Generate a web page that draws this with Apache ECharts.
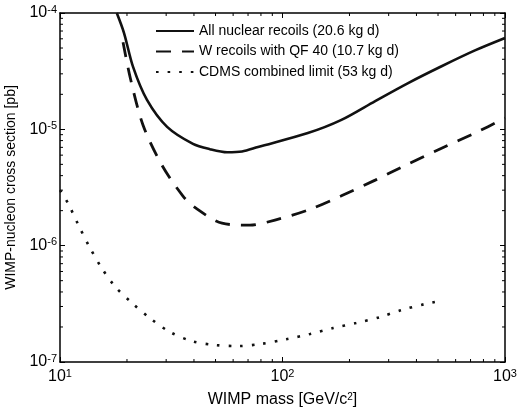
<!DOCTYPE html>
<html>
<head>
<meta charset="utf-8">
<script src="https://cdn.jsdelivr.net/npm/echarts@6/dist/echarts.min.js"></script>
<style>html,body{margin:0;padding:0;background:#fff;}#c{width:517px;height:412px;}</style>
</head>
<body>
<div id="c"></div>
<script>
// WIMP mass [GeV/c^2]
var massSolid = [18.0, 19.4, 21.3, 24.6, 30.3, 39.6, 47.2, 56.4, 65.8, 77.6, 130, 183, 261, 367, 516, 733, 1000];
var csSolid   = [1.0e-4, 6.73e-5, 3.44e-5, 1.79e-5, 1.05e-5, 7.5e-6, 6.75e-6, 6.35e-6, 6.45e-6, 7.05e-6, 9.29e-6, 1.20e-5, 1.75e-5, 2.50e-5, 3.47e-5, 4.77e-5, 6.1e-5];

var massDashed = [19.2, 20.7, 23.6, 28.7, 35.7, 40.8, 53.5, 71.4, 92.5, 130, 183, 261, 367, 516, 733, 1000];
var csDashed   = [5.6e-5, 2.76e-5, 1.09e-5, 4.93e-6, 2.67e-6, 2.10e-6, 1.56e-6, 1.50e-6, 1.66e-6, 2.02e-6, 2.67e-6, 3.66e-6, 5.04e-6, 6.84e-6, 9.29e-6, 1.25e-5];

var massDotted = [10.0, 10.86, 12.05, 13.5, 15.3, 17.6, 21.1, 25.4, 31.2, 39.2, 49.7, 63.1, 80.0, 104, 133, 169, 214, 274, 341, 437, 484];
var csDotted   = [3.0e-6, 2.32e-6, 1.53e-6, 9.93e-7, 6.55e-7, 4.50e-7, 3.21e-7, 2.38e-7, 1.81e-7, 1.51e-7, 1.40e-7, 1.37e-7, 1.43e-7, 1.57e-7, 1.74e-7, 1.96e-7, 2.16e-7, 2.43e-7, 2.79e-7, 3.15e-7, 3.28e-7];

var seriesNames = ['All nuclear recoils (20.6 kg d)', 'W recoils with QF 40 (10.7 kg d)', 'CDMS combined limit (53 kg d)'];

var xMin = 10, xMax = 1000, yMin = 1e-7, yMax = 1e-4;
var xMinorTicks = [20, 30, 40, 50, 60, 70, 80, 90, 200, 300, 400, 500, 600, 700, 800, 900];
var yMinorTicks = [2e-7, 3e-7, 4e-7, 5e-7, 6e-7, 7e-7, 8e-7, 9e-7, 2e-6, 3e-6, 4e-6, 5e-6, 6e-6, 7e-6, 8e-6, 9e-6, 2e-5, 3e-5, 4e-5, 5e-5, 6e-5, 7e-5, 8e-5, 9e-5];

function zip(a, b) { return a.map(function (v, i) { return [v, b[i]]; }); }

var FONT = '"Liberation Sans", Arial, sans-serif';
function powLabel(v) {
  var e = Math.round(Math.log10(v));
  return '{b|10}{e|' + e + '}';
}
var labelRich = {
  b: { fontSize: 16, fontFamily: FONT, color: '#000', lineHeight: 18 },
  e: { fontSize: 11, fontFamily: FONT, color: '#000', verticalAlign: 'top', lineHeight: 18 }
};

var axisLineStyle = { lineStyle: { color: '#000', width: 1.5 } };
var tickStyle = { inside: true, length: 5, lineStyle: { color: '#000', width: 1 } };

var chart = echarts.init(document.getElementById('c'), null, { renderer: 'canvas' });
chart.setOption({
  animation: false,
  backgroundColor: '#fff',
  grid: { left: 60, right: 12, top: 13, bottom: 50, containLabel: false, outerBoundsMode: 'none' },
  legend: {
    orient: 'vertical', left: 155, top: 24, padding: 0,
    itemWidth: 38, itemHeight: 14, itemGap: 6.5,
    icon: 'inherit',
    itemStyle: { opacity: 0 },
    textStyle: { fontSize: 14, fontFamily: FONT, color: '#000' },
    data: seriesNames
  },
  xAxis: [{
    type: 'log', logBase: 10, min: xMin, max: xMax,
    name: 'WIMP mass [GeV/c{s|2}]', nameLocation: 'middle', nameGap: 30,
    nameTextStyle: { fontSize: 16, fontFamily: FONT, color: '#000',
      rich: { s: { fontSize: 10, fontFamily: FONT, color: '#000', verticalAlign: 'top' } } },
    axisLine: axisLineStyle,
    axisTick: tickStyle,
    axisLabel: { formatter: powLabel, rich: labelRich, margin: 6 },
    splitLine: { show: false }
  }, {
    type: 'log', logBase: 10, min: xMin, max: xMax, position: 'top',
    axisLine: axisLineStyle, axisTick: tickStyle,
    axisLabel: { show: false }, splitLine: { show: false }
  }],
  yAxis: [{
    type: 'log', logBase: 10, min: yMin, max: yMax,
    name: 'WIMP-nucleon cross section [pb]', nameLocation: 'middle', nameGap: 41,
    nameTextStyle: { fontSize: 14, fontFamily: FONT, color: '#000' },
    axisLine: axisLineStyle, axisTick: tickStyle,
    axisLabel: { formatter: powLabel, rich: labelRich, margin: 3 },
    splitLine: { show: false }
  }, {
    type: 'log', logBase: 10, min: yMin, max: yMax, position: 'right',
    axisLine: axisLineStyle, axisTick: tickStyle,
    axisLabel: { show: false }, splitLine: { show: false }
  }],
  series: [{
    name: seriesNames[0], type: 'line', data: zip(massSolid, csSolid),
    smooth: 0.3, symbol: 'none', clip: true,
    lineStyle: { color: '#111', width: 2.6, type: 'solid' }, itemStyle: { color: '#111' }
  }, {
    name: seriesNames[1], type: 'line', data: zip(massDashed, csDashed),
    smooth: 0.3, symbol: 'none', clip: true,
    lineStyle: { color: '#111', width: 2.8, type: [15, 11], cap: 'butt' }, itemStyle: { color: '#111' }
  }, {
    name: seriesNames[2], type: 'line', data: zip(massDotted, csDotted),
    smooth: 0.3, symbol: 'none', clip: true,
    lineStyle: { color: '#111', width: 2.6, type: [2.6, 9], cap: 'butt' }, itemStyle: { color: '#111' }
  }, {
    type: 'custom', silent: true, clip: false,
    data: xMinorTicks.map(function (v) { return [v, yMin]; }),
    renderItem: function (params, api) {
      var p = api.coord([api.value(0), yMin]);
      var cs = params.coordSys;
      return { type: 'group', children: [
        { type: 'line', shape: { x1: p[0], y1: cs.y + cs.height, x2: p[0], y2: cs.y + cs.height - 3 }, style: { stroke: '#000', lineWidth: 1 } },
        { type: 'line', shape: { x1: p[0], y1: cs.y, x2: p[0], y2: cs.y + 3 }, style: { stroke: '#000', lineWidth: 1 } }
      ] };
    }
  }, {
    type: 'custom', silent: true, clip: false,
    data: yMinorTicks.map(function (v) { return [xMin, v]; }),
    renderItem: function (params, api) {
      var p = api.coord([xMin, api.value(1)]);
      var cs = params.coordSys;
      return { type: 'group', children: [
        { type: 'line', shape: { x1: cs.x, y1: p[1], x2: cs.x + 3, y2: p[1] }, style: { stroke: '#000', lineWidth: 1 } },
        { type: 'line', shape: { x1: cs.x + cs.width, y1: p[1], x2: cs.x + cs.width - 3, y2: p[1] }, style: { stroke: '#000', lineWidth: 1 } }
      ] };
    }
  }]
});
</script>
</body>
</html>
